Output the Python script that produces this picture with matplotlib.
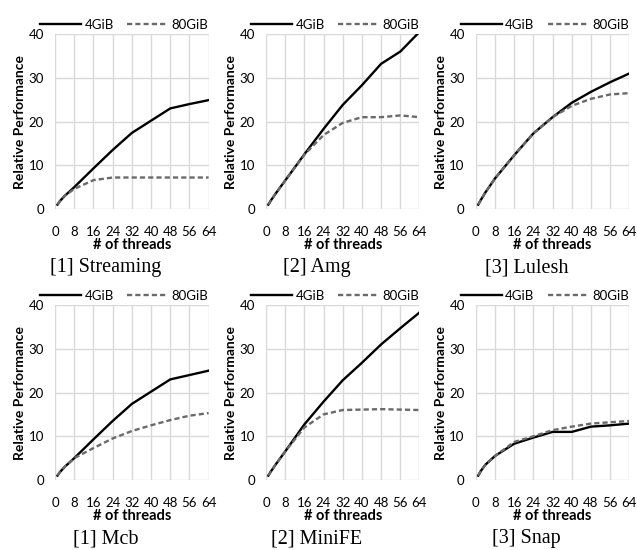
import matplotlib.pyplot as plt

# thread counts on the x axis
threads = [1, 2, 4, 8, 16, 24, 32, 40, 48, 56, 64]

titles = ["[1] Streaming", "[2] Amg", "[3] Lulesh", "[1] Mcb", "[2] MiniFE", "[3] Snap"]

# relative performance, 4GiB
streaming_4 = [1, 1.8, 3.0, 5.0, 9.3, 13.5, 17.4, 20.2, 23.0, 24.0, 24.9]
amg_4 = [1, 1.9, 3.5, 6.5, 12.5, 18.3, 23.8, 28.3, 33.2, 36.0, 40.5]
lulesh_4 = [1, 2.0, 3.8, 7.0, 12.3, 17.3, 21.0, 24.3, 26.8, 29.0, 31.0]
mcb_4 = [1, 1.8, 3.0, 5.0, 9.3, 13.5, 17.4, 20.2, 23.0, 24.0, 25.0]
minife_4 = [1, 1.9, 3.5, 6.5, 12.7, 17.9, 22.8, 26.8, 31.0, 34.7, 38.3]
snap_4 = [1, 2.0, 3.5, 5.5, 8.3, 9.7, 11.0, 11.0, 12.2, 12.5, 12.9]

# relative performance, 80GiB
streaming_80 = [1, 1.8, 3.0, 4.6, 6.6, 7.2, 7.2, 7.2, 7.2, 7.2, 7.2]
amg_80 = [1, 1.9, 3.5, 6.5, 12.4, 16.9, 19.7, 21.0, 21.0, 21.4, 21.0]
lulesh_80 = [1, 2.0, 3.8, 7.0, 12.3, 17.3, 21.0, 23.6, 25.2, 26.2, 26.5]
mcb_80 = [1, 1.8, 3.0, 5.0, 7.3, 9.5, 11.2, 12.5, 13.7, 14.7, 15.3]
minife_80 = [1, 1.9, 3.5, 6.5, 12.0, 15.0, 16.0, 16.1, 16.2, 16.1, 16.0]
snap_80 = [1, 2.0, 3.5, 5.5, 8.7, 10.0, 11.4, 12.2, 12.9, 13.2, 13.5]

series_4 = [streaming_4, amg_4, lulesh_4, mcb_4, minife_4, snap_4]
series_80 = [streaming_80, amg_80, lulesh_80, mcb_80, minife_80, snap_80]

plt.rcParams['font.family'] = ['Lato', 'DejaVu Sans']

fig = plt.figure(figsize=(6.37, 5.5), dpi=100)

lefts = [0.0865, 0.4175, 0.747]
bottoms = [0.62, 0.1273]
w, h = 0.241, 0.318

for i in range(6):
    r, c = divmod(i, 3)
    ax = fig.add_axes([lefts[c], bottoms[r], w, h])
    l1, = ax.plot(threads, series_4[i], color="black", lw=1.7, label="4GiB")
    l2, = ax.plot(threads, series_80[i], color="#6a6a6a", lw=1.7, ls=(0, (2.2, 1.3)), label="80GiB")
    ax.set_xlim(0, 64)
    ax.set_ylim(0, 40)
    ax.set_xticks(range(0, 65, 8))
    ax.set_yticks(range(0, 41, 10))
    ax.grid(True, color="#d9d9d9", lw=1)
    ax.set_axisbelow(True)
    for s in ax.spines.values():
        s.set_visible(False)
    ax.tick_params(length=0, labelsize=9.5, colors="black")
    ax.tick_params(axis="x", pad=12)
    ax.tick_params(axis="y", pad=8)
    ax.set_xlabel("# of threads", fontsize=10.5, fontweight="bold", labelpad=0)
    ax.set_ylabel("Relative Performance", fontsize=10, fontweight="bold", labelpad=2)
    ax.legend(handles=[l1, l2], loc="lower center", bbox_to_anchor=(0.45, 0.99), ncol=2,
              frameon=False, fontsize=9.5, handlelength=3.1, handletextpad=0.25,
              columnspacing=1.0, borderaxespad=0)
    ax.text(0.33, -0.335, titles[i], transform=ax.transAxes, ha="center", va="center",
            fontsize=14.5, family="Liberation Serif")

fig.savefig("out.png", dpi=100)
